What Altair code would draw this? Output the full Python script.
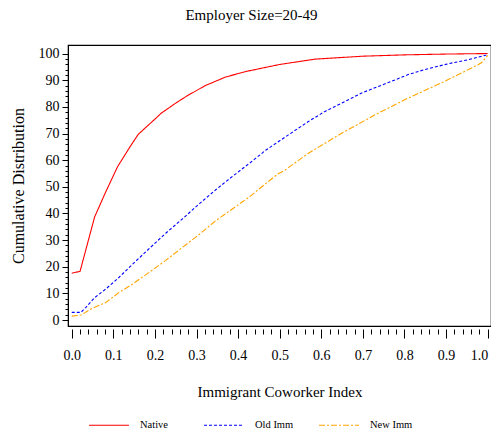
import altair as alt
import pandas as pd

native_x = [0, 0.02, 0.055, 0.08, 0.11, 0.14, 0.16, 0.2, 0.215, 0.25, 0.275, 0.32, 0.37, 0.42, 0.5, 0.585, 0.7, 0.8, 0.9, 1.0]
native_y = [17.6, 18.3, 38.7, 47.5, 57.5, 65, 69.7, 75.4, 77.6, 81.4, 83.9, 87.9, 91.2, 93.3, 95.9, 97.9, 99.0, 99.5, 99.8, 100]

old_x = [0, 0.022, 0.034, 0.054, 0.082, 0.11, 0.147, 0.186, 0.226, 0.267, 0.307, 0.347, 0.387, 0.427, 0.467, 0.5, 0.521, 0.569, 0.609, 0.649, 0.697, 0.769, 0.809, 0.849, 0.906, 0.954, 1.0]
old_y = [2.9, 2.9, 4.8, 8.3, 11.7, 15.5, 21.1, 26.8, 32.6, 38.1, 43.7, 49, 54, 58.8, 63.8, 67.3, 69.5, 74.5, 78.3, 81.4, 85.2, 89.6, 92.1, 94, 96.2, 97.7, 99.6]

new_x = [0, 0.022, 0.049, 0.082, 0.114, 0.147, 0.186, 0.226, 0.267, 0.307, 0.347, 0.387, 0.427, 0.467, 0.495, 0.513, 0.569, 0.649, 0.729, 0.809, 0.889, 0.954, 0.985, 1.0]
new_y = [1.5, 1.9, 4.4, 6.6, 10.4, 13.6, 17.9, 22.4, 27.4, 32.2, 37.4, 41.8, 46.2, 51.3, 54.8, 56.3, 62.6, 70.1, 77, 83.3, 89, 94, 96.5, 99.3]

series = ["Native", "Old Imm", "New Imm"]
colors = ["#ff0000", "#0000ff", "#ffa500"]
dashes = [[1, 0], [3, 2], [6, 2, 2, 2]]

x_ticks = [round(i * 0.02, 2) for i in range(51)]
y_ticks = list(range(0, 101, 2))

rows = []
for name, xs, ys in [("Native", native_x, native_y), ("Old Imm", old_x, old_y), ("New Imm", new_x, new_y)]:
    for i, (a, b) in enumerate(zip(xs, ys)):
        rows.append({"series": name, "x": a, "y": b, "order": i})
df = pd.DataFrame(rows)

FONT = "Liberation Serif, Times New Roman, DejaVu Serif, serif"

legend = alt.Legend(
    title=None, orient="none", legendX=20, legendY=359, direction="horizontal",
    columns=3, gridAlign="all", columnPadding=18, symbolType="stroke",
    symbolSize=1600, symbolStrokeWidth=1.2, labelFont=FONT, labelFontSize=10.5,
    labelOffset=10, padding=0, labelColor="black",
)

chart = alt.Chart(df).mark_line(strokeWidth=1.1).encode(
    x=alt.X("x:Q", scale=alt.Scale(domain=[-0.009, 1.008], nice=False, zero=False),
            axis=alt.Axis(
                values=x_ticks, title="Immigrant Coworker Index", domain=False, offset=3,
                grid=False, tickColor="black",
                tickSize={"condition": {"test": "round(datum.value*50) % 5 === 0", "value": 9}, "value": 5},
                labelExpr="round(datum.value*50) % 5 === 0 ? format(datum.value, '.1f') : ''",
                labelAlign={"condition": {"test": "datum.value >= 0.999", "value": "right"}, "value": "center"},
                labelFont=FONT, labelFontSize=14, labelColor="black", labelPadding=10,
                titleFont=FONT, titleFontSize=15, titleFontWeight="normal", titleColor="black",
                titlePadding=22, labelFlush=False,
            )),
    y=alt.Y("y:Q", scale=alt.Scale(domain=[-2.2, 103.2], nice=False, zero=False),
            axis=alt.Axis(
                values=y_ticks, title="Cumulative  Distribution", domain=True, domainColor="black",
                grid=False, tickColor="black",
                tickSize={"condition": {"test": "datum.value % 10 === 0", "value": 6}, "value": 3},
                labelExpr="datum.value % 10 === 0 ? datum.value : ''",
                labelFont=FONT, labelFontSize=14, labelColor="black", labelPadding=3,
                titleFont=FONT, titleFontSize=16, titleFontWeight="normal", titleColor="black",
                titlePadding=12,
            )),
    color=alt.Color("series:N", scale=alt.Scale(domain=series, range=colors), legend=legend, sort=series),
    strokeDash=alt.StrokeDash("series:N", scale=alt.Scale(domain=series, range=dashes), legend=legend, sort=series),
    order="order:Q",
).properties(
    width=423, height=281,
    title=alt.TitleParams("Employer Size=20-49", font=FONT, fontSize=15, fontWeight="normal",
                          color="black", anchor="middle", dx=-28, offset=22),
    autosize=alt.AutoSizeParams(type="none"),
    padding={"left": 60, "top": 37, "right": 0, "bottom": 104},
).configure_view(stroke="black", strokeWidth=1.2)

chart.save("out.html", embed_options={"renderer": "svg", "actions": False})
